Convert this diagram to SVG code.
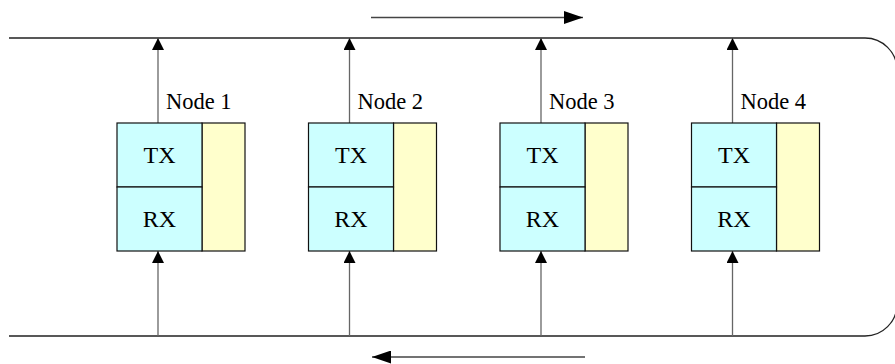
<svg xmlns="http://www.w3.org/2000/svg" width="895" height="364" viewBox="0 0 895 364">
  <defs>
    <marker id="head" viewBox="0 0 12 12" refX="12" refY="6" markerWidth="12" markerHeight="12" markerUnits="userSpaceOnUse" orient="auto">
      <path d="M0,0 L12,6 L0,12 Z" fill="#000"/>
    </marker>
    <marker id="bighead" viewBox="0 0 19 13" refX="19" refY="6.5" markerWidth="19" markerHeight="13" markerUnits="userSpaceOnUse" orient="auto">
      <path d="M0,0 L19,6.5 L0,13 Z" fill="#000"/>
    </marker>
    <style>
      .ring { fill: none; stroke: #222; stroke-width: 1.3; }
      .link { stroke: #666; stroke-width: 1.3; fill: none; marker-end: url(#head); }
      .dir { stroke: #444; stroke-width: 1.3; fill: none; marker-end: url(#bighead); }
      .cyan { fill: #ccffff; stroke: #111; stroke-width: 1.2; }
      .yel { fill: #ffffcc; stroke: #111; stroke-width: 1.2; }
      .lbl { font-family: "Liberation Serif", "Times New Roman", serif; font-size: 22.5px; fill: #000; }
      .cell { font-family: "Liberation Serif", "Times New Roman", serif; font-size: 24px; fill: #000; text-anchor: middle; }
    </style>
  </defs>

  <!-- ring bus -->
  <path class="ring" d="M9,38 H865 A32,32 0 0 1 897,70 V304 A32,32 0 0 1 865,336 H9"/>

  <g id="connectors">
    <!-- direction indicators -->
    <line class="dir" x1="371" y1="17.5" x2="583" y2="17.5"/>
    <line class="dir" x1="585" y1="357" x2="372" y2="357"/>
    <!-- node taps -->
    <line class="link" x1="158" y1="123" x2="158" y2="38"/>
    <line class="link" x1="158" y1="336" x2="158" y2="251"/>
    <line class="link" x1="349.5" y1="123" x2="349.5" y2="38"/>
    <line class="link" x1="349.5" y1="336" x2="349.5" y2="251"/>
    <line class="link" x1="541" y1="123" x2="541" y2="38"/>
    <line class="link" x1="541" y1="336" x2="541" y2="251"/>
    <line class="link" x1="732.5" y1="123" x2="732.5" y2="38"/>
    <line class="link" x1="732.5" y1="336" x2="732.5" y2="251"/>
  </g>

  <g id="node1" transform="translate(117,0)">
    <rect class="yel" x="85" y="123" width="43" height="128"/>
    <rect class="cyan" x="0" y="123" width="85" height="64"/>
    <rect class="cyan" x="0" y="187" width="85" height="64"/>
    <text class="cell" x="42.5" y="163">TX</text>
    <text class="cell" x="42.5" y="227">RX</text>
    <text class="lbl" x="49" y="108.5">Node 1</text>
  </g>

  <g id="node2" transform="translate(308.5,0)">
    <rect class="yel" x="85" y="123" width="43" height="128"/>
    <rect class="cyan" x="0" y="123" width="85" height="64"/>
    <rect class="cyan" x="0" y="187" width="85" height="64"/>
    <text class="cell" x="42.5" y="163">TX</text>
    <text class="cell" x="42.5" y="227">RX</text>
    <text class="lbl" x="49" y="108.5">Node 2</text>
  </g>

  <g id="node3" transform="translate(500,0)">
    <rect class="yel" x="85" y="123" width="43" height="128"/>
    <rect class="cyan" x="0" y="123" width="85" height="64"/>
    <rect class="cyan" x="0" y="187" width="85" height="64"/>
    <text class="cell" x="42.5" y="163">TX</text>
    <text class="cell" x="42.5" y="227">RX</text>
    <text class="lbl" x="49" y="108.5">Node 3</text>
  </g>

  <g id="node4" transform="translate(691.5,0)">
    <rect class="yel" x="85" y="123" width="43" height="128"/>
    <rect class="cyan" x="0" y="123" width="85" height="64"/>
    <rect class="cyan" x="0" y="187" width="85" height="64"/>
    <text class="cell" x="42.5" y="163">TX</text>
    <text class="cell" x="42.5" y="227">RX</text>
    <text class="lbl" x="49" y="108.5">Node 4</text>
  </g>
</svg>
